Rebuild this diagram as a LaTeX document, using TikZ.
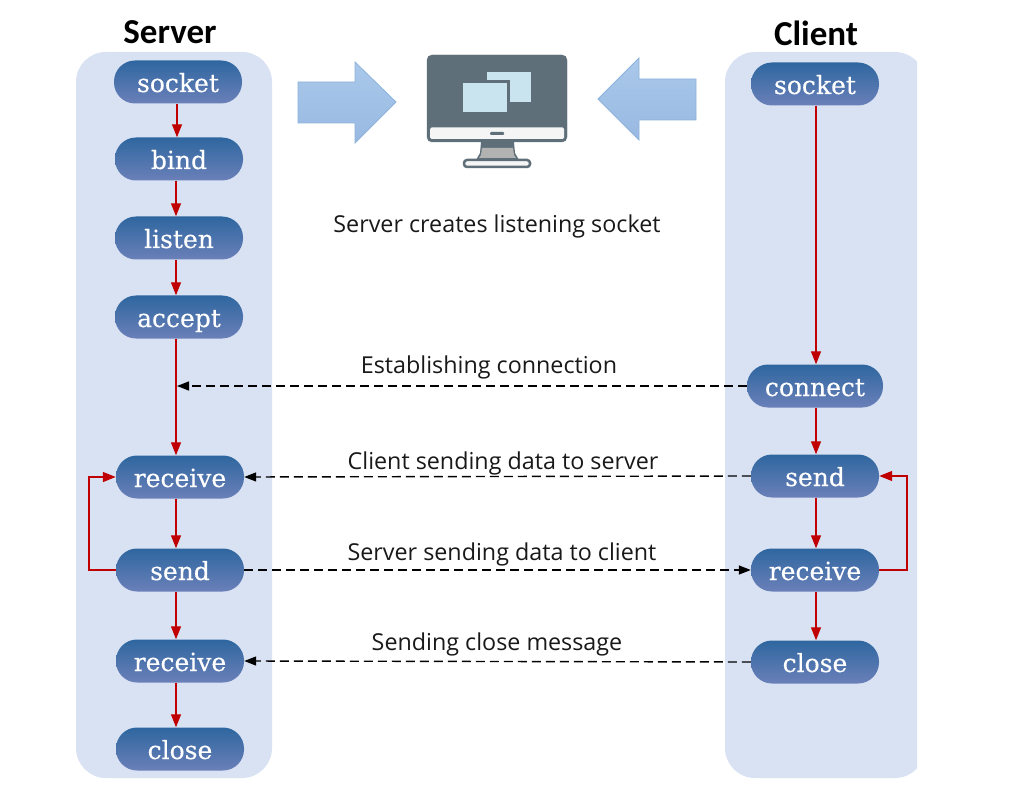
\documentclass[tikz,border=0pt]{standalone}
\usepackage{fontspec}
\setsansfont{Carlito}
\newfontfamily\notefont{Open Sans}
\newfontfamily\blockfont[FakeBold=0.3]{DejaVu Serif}
\usetikzlibrary{arrows.meta}
\definecolor{panelblue}{HTML}{D9E2F3}
\definecolor{edgered}{HTML}{C00000}
\definecolor{screengrey}{HTML}{5F6F7A}
\definecolor{paneglass}{HTML}{C9E4EE}
\definecolor{arrowtop}{HTML}{A9C8EA}
\definecolor{arrowbot}{HTML}{99B9E2}
\definecolor{arrowedge}{HTML}{8DB3DC}
\definecolor{nodetop}{HTML}{2F669F}
\definecolor{nodebot}{HTML}{6A80B9}
\tikzstyle{panel} = [fill=panelblue, draw=none, rounded corners=30pt]
\tikzstyle{block} = [rectangle, rounded corners=21pt, top color=nodetop, bottom color=nodebot, minimum width=128pt, minimum height=43pt, inner sep=0pt, text=white, text height=20pt, text depth=0pt, font=\blockfont\fontsize{25}{25}\selectfont, node distance=79pt]
\tikzstyle{note} = [font=\notefont\fontsize{23.3}{26}\selectfont, text=black!90]
\tikzstyle{title} = [font=\sffamily\bfseries\fontsize{35}{38}\selectfont]
\tikzstyle{line} = [draw=edgered, -{Triangle[length=13pt,width=10pt]}, line width=1.3pt]
\tikzstyle{msg} = [draw=black, dash pattern=on 9pt off 5pt, -{Triangle[length=12pt,width=9pt]}, line width=1.4pt]
\tikzstyle{bigarrow} = [draw=arrowedge, top color=arrowtop, bottom color=arrowbot, line width=0.8pt]
\begin{document}
\begin{tikzpicture}[x=1pt,y=-1pt]
\useasboundingbox (0,0) rectangle (1018,805);
\fill[white] (0,0) rectangle (1018,805);
% Panels
	\fill [panel] (76,52) rectangle (272,778);
	\begin{scope}
		\clip (720,45) rectangle (917,785);
		\fill [panel] (725,52) rectangle (925,778);
	\end{scope}

% Place nodes
	\node [block] at (178,82) (sSocket) {socket};
	\node [block, below of=sSocket, xshift=1pt, node distance=77pt] (sBind) {bind};
	\node [block, below of=sBind, node distance=79pt] (sListen) {listen};
	\node [block, below of=sListen, node distance=79pt] (sAccept) {accept};
	\node [block, below of=sAccept, xshift=1pt, node distance=160pt] (sRecv) {receive};
	\node [block, below of=sRecv, node distance=93pt] (sSend) {send};
	\node [block, below of=sSend, node distance=91pt] (sRecvEnd) {receive};
	\node [block, below of=sRecvEnd, node distance=88pt] (sClose) {close};

	\node [block] at (815,84) (cSocket) {socket};
	\node [block, below of=cSocket, node distance=302pt, minimum width=136pt] (cConnect) {connect};
	\node [block, below of=cConnect, node distance=90pt] (cSend) {send};
	\node [block, below of=cSend, node distance=94pt] (cRecv) {receive};
	\node [block, below of=cRecv, node distance=92pt] (cClose) {close};

	\coordinate (sJoin) at (177,386);
	\coordinate (sLoop) at (89,520);
	\coordinate (cLoop) at (907,520);

% Labels
	\node [title] at (170,32) (serverTitle) {Server};
	\node [title] at (816,33) (clientTitle) {Client};
	\node [note] at (497,226) (noteListen) {Server creates listening socket};
	\node [note] at (489,367) (noteConnect) {Establishing connection};
	\node [note] at (503,463) (noteClient) {Client sending data to server};
	\node [note] at (502,554) (noteServer) {Server sending data to client};
	\node [note] at (497,644) (noteClose) {Sending close message};

% Draw edges
	\path [line] ([xshift=-1pt]sSocket.south) -- ([xshift=-2pt]sBind.north);
	\path [line] ([xshift=-3pt]sBind.south) -- ([xshift=-3pt]sListen.north);
	\path [line] ([xshift=-3pt]sListen.south) -- ([xshift=-3pt]sAccept.north);
	\path [line] ([xshift=-3pt]sAccept.south) -- ([xshift=-4pt]sRecv.north);
	\path [line] ([xshift=-4pt]sRecv.south) -- ([xshift=-4pt]sSend.north);
	\path [line] ([xshift=-4pt]sSend.south) -- ([xshift=-4pt]sRecvEnd.north);
	\path [line] ([xshift=-4pt]sRecvEnd.south) -- ([xshift=-4pt]sClose.north);
	\path [line] (sSend.west) -| (sLoop) |- (sRecv.west);

	\path [line] ([xshift=1pt]cSocket.south) -- ([xshift=1pt]cConnect.north);
	\path [line] ([xshift=1pt]cConnect.south) -- ([xshift=1pt]cSend.north);
	\path [line] ([xshift=1pt]cSend.south) -- ([xshift=1pt]cRecv.north);
	\path [line] ([xshift=1pt]cRecv.south) -- ([xshift=1pt]cClose.north);
	\path [line] (cRecv.east) -| (cLoop) |- (cSend.east);

	\path [msg] (cConnect.west) -- (sJoin);
	\path [msg] (cSend.west) -- (sRecv.east);
	\path [msg] (sSend.east) -- (cRecv.west);
	\path [msg] (cClose.west) -- (sRecvEnd.east);

% Big arrows
	\draw [bigarrow] (298,82) -- (355,82) -- (355,62) -- (396,102) -- (355,143) -- (355,123) -- (298,123) -- cycle;
	\draw [bigarrow] (696,79) -- (639,79) -- (639,58) -- (598,99) -- (639,140) -- (639,120) -- (696,120) -- cycle;

% Monitor
	\fill [screengrey] (481,142) -- (514,142) -- (515,153) -- (519,160) -- (476,160) -- (480,153) -- cycle;
	\fill [gray!60] (482,148) -- (513,148) -- (514,155) -- (516,158) -- (479,158) -- (481,155) -- cycle;
	\draw [screengrey, line width=2.5pt, fill=white!92!gray, rounded corners=3pt] (464,160) rectangle (530,167);
	\draw [screengrey, fill=screengrey, rounded corners=5pt] (427,55) rectangle (567,142);
	\fill [white!92!gray, rounded corners=1.5pt] (430,127.5) rectangle (564,139);
	\fill [screengrey, rounded corners=1pt] (490,132) rectangle (504,135);
	\fill [paneglass] (487,72) rectangle (531,102);
	\fill [screengrey] (460,80) rectangle (510,115);
	\fill [paneglass] (463,83) rectangle (507,112);
\end{tikzpicture}
\end{document}
